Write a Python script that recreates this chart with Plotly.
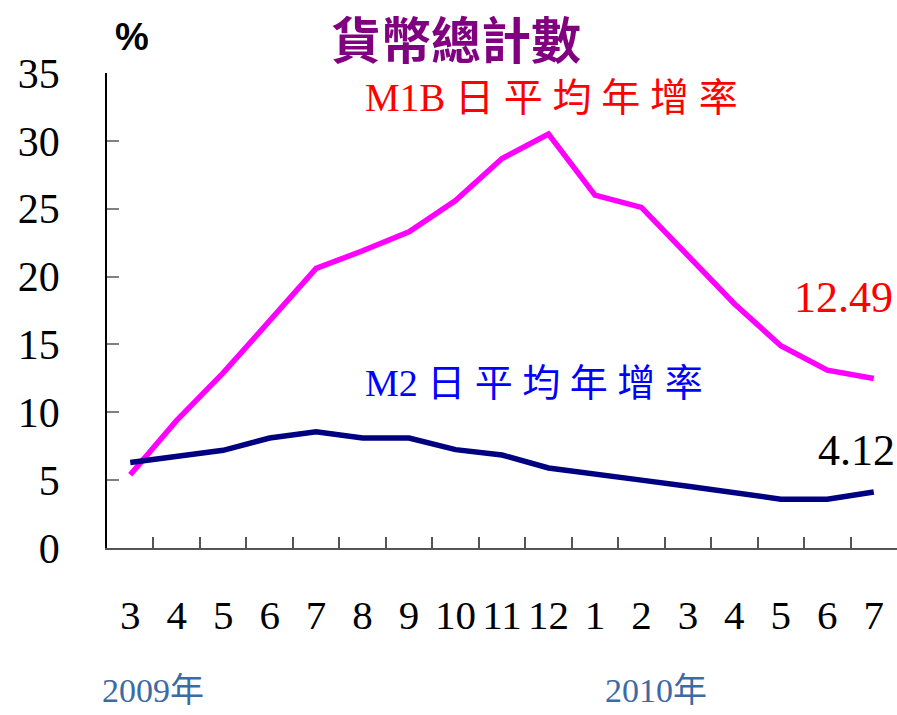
import plotly.graph_objects as go

categories = ["2009-03", "2009-04", "2009-05", "2009-06", "2009-07", "2009-08", "2009-09",
              "2009-10", "2009-11", "2009-12", "2010-01", "2010-02", "2010-03", "2010-04",
              "2010-05", "2010-06", "2010-07"]
tick_labels = ["3", "4", "5", "6", "7", "8", "9", "10", "11", "12", "1", "2", "3", "4", "5", "6", "7"]
m1b = [5.4, 9.4, 12.9, 16.8, 20.6, 21.9, 23.3, 25.6, 28.7, 30.5, 26.0, 25.1, 21.6, 18.0, 14.9, 13.1, 12.49]
m2 = [6.3, 6.8, 7.2, 8.1, 8.57, 8.1, 8.1, 7.25, 6.85, 5.9, 5.5, 5.0, 4.55, 4.1, 3.6, 3.6, 4.12]
y_ticks = [0, 5, 10, 15, 20, 25, 30, 35]

serif = "Liberation Serif, Times New Roman, Noto Sans CJK TC, serif"
cjk = "Liberation Serif, Noto Sans CJK TC, sans-serif"

fig = go.Figure()
fig.add_trace(go.Scatter(x=categories, y=m1b, mode="lines",
                         line=dict(color="#FF00FF", width=5.5), showlegend=False))
fig.add_trace(go.Scatter(x=categories, y=m2, mode="lines",
                         line=dict(color="#000080", width=5.5), showlegend=False))

fig.update_layout(
    width=897, height=715,
    margin=dict(l=107, r=0, t=73, b=167),
    paper_bgcolor="white", plot_bgcolor="white",
    showlegend=False,
    xaxis=dict(type="category", tickvals=categories, ticktext=tick_labels,
               tickson="boundaries", ticks="inside", ticklen=11, tickcolor="#555555",
               tickwidth=1.5, showline=True, linecolor="#555555", linewidth=1.5,
               showgrid=False, zeroline=False, range=[-0.5, 16.5], tickangle=0,
               automargin=False,
               tickfont=dict(family=serif, size=41, color="black"),
               ticklabelstandoff=30),
    yaxis=dict(range=[0, 35], tickvals=y_ticks, ticks="inside", ticklen=12,
               tickcolor="#808080", tickwidth=1.5, showline=True, linecolor="black",
               linewidth=1.5, showgrid=False, zeroline=False, automargin=False,
               tickfont=dict(family=serif, size=42, color="black"),
               ticklabelstandoff=37),
)

annotations = [
    dict(text="貨幣總計數", x=0.4418, y=1.0758, xref="paper", yref="paper",
         xanchor="center", yanchor="middle", showarrow=False,
         font=dict(family="Noto Sans CJK TC", size=50, color="#800080", weight="bold")),
    dict(text="%", x=0.0316, y=1.0758, xref="paper", yref="paper",
         xanchor="center", yanchor="middle", showarrow=False,
         font=dict(family="Liberation Sans, Arial, sans-serif", size=38, color="black", weight="bold")),
    dict(text="M1B 日 平 均 年 增 率", x=0.324, y=0.949, xref="paper", yref="paper",
         xanchor="left", yanchor="middle", showarrow=False,
         font=dict(family=cjk, size=39, color="#FF0000")),
    dict(text="M2 日 平 均 年 增 率", x=0.324, y=0.347, xref="paper", yref="paper",
         xanchor="left", yanchor="middle", showarrow=False,
         font=dict(family=cjk, size=38, color="#0000FF")),
    dict(text=f"{m1b[-1]:.2f}", x=categories[-1], y=m1b[-1], xref="x", yref="y",
         xanchor="right", yanchor="middle", xshift=21, yshift=81, showarrow=False,
         font=dict(family=serif, size=44, color="#FF0000")),
    dict(text=f"{m2[-1]:.2f}", x=categories[-1], y=m2[-1], xref="x", yref="y",
         xanchor="right", yanchor="middle", xshift=23, yshift=42, showarrow=False,
         font=dict(family=serif, size=44, color="black")),
    dict(text="2009年", x=-0.0089, y=-0.30, xref="paper", yref="paper",
         xanchor="left", yanchor="middle", showarrow=False,
         font=dict(family=cjk, size=34, color="#3C6AA5")),
    dict(text="2010年", x=0.628, y=-0.30, xref="paper", yref="paper",
         xanchor="left", yanchor="middle", showarrow=False,
         font=dict(family=cjk, size=34, color="#3C6AA5")),
]
fig.update_layout(annotations=annotations)

fig.write_html("out.html", config={"displayModeBar": False},
               post_script="document.body.style.margin='0';document.body.style.overflow='hidden';")
